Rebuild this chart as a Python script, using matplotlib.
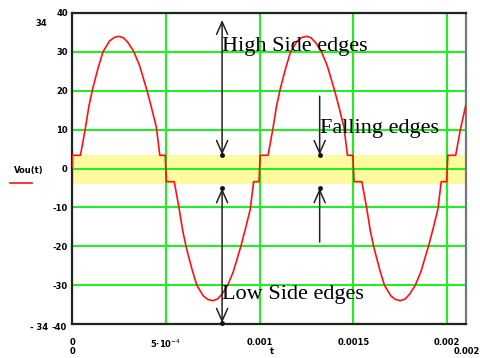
import matplotlib
matplotlib.use("Agg")
import matplotlib.pyplot as plt

# ---- data (time in microseconds, voltage) ----
t_us = [0, 2, 45, 70, 90, 110, 140, 165, 200, 225, 250, 275, 300, 330, 360, 400, 425, 450,
        468, 497, 503, 545, 570, 590, 610, 640, 665, 700, 725, 750, 775, 800, 830, 860, 900, 925, 950,
        968, 997, 1003, 1045, 1070, 1090, 1110, 1140, 1165, 1200, 1225, 1250, 1275, 1300, 1330, 1360,
        1400, 1425, 1450, 1468, 1497, 1503, 1545, 1570, 1590, 1610, 1640, 1665, 1700, 1725, 1750, 1775,
        1800, 1830, 1860, 1900, 1925, 1950, 1968, 1997, 2003, 2045, 2070, 2100]
vout = [0, 3.4, 3.4, 10.0, 16.0, 20.5, 26.0, 30.0, 32.8, 33.7, 34.0, 33.6, 32.3, 30.0, 26.5, 20.0, 15.4, 10.5,
        3.4, 3.4, -3.4, -3.4, -10.0, -16.0, -20.5, -26.0, -30.0, -32.8, -33.7, -34.0, -33.6, -32.3, -30.0, -26.5, -20.0, -15.4, -10.5,
        -3.4, -3.4, 3.4, 3.4, 10.0, 16.0, 20.5, 26.0, 30.0, 32.8, 33.7, 34.0, 33.6, 32.3, 30.0, 26.5,
        20.0, 15.4, 10.5, 3.4, 3.4, -3.4, -3.4, -10.0, -16.0, -20.5, -26.0, -30.0, -32.8, -33.7, -34.0, -33.6,
        -32.3, -30.0, -26.5, -20.0, -15.4, -10.5, -3.4, -3.4, 3.4, 3.4, 10.0, 16.5]

band_low, band_high = -4.0, 3.4
x_ticks = [0, 0.0005, 0.001, 0.0015, 0.002]
x_tick_labels = ["0", "5·10$^{-4}$", "0.001", "0.0015", "0.002"]
y_ticks = [-40, -30, -20, -10, 0, 10, 20, 30, 40]
y_tick_labels = ["", "-30", "-20", "-10", "0", "10", "20", "30", "40"]

t = [v * 1e-6 for v in t_us]

W, H = 481, 358
fig = plt.figure(figsize=(W / 100, H / 100), dpi=100)
ax = fig.add_axes([72 / W, 1 - 324 / H, (466 - 72) / W, (324 - 13) / H])
ax.set_xlim(0, 0.0021)
ax.set_ylim(-40, 40)

ax.axhspan(band_low, band_high, color="#fffaa0", zorder=0.2, lw=0)
ax.set_axisbelow(True)
ax.set_xticks(x_ticks)
ax.set_xticklabels(x_tick_labels)
ax.set_yticks(y_ticks)
ax.set_yticklabels(y_tick_labels)
ax.grid(True, color="#22ee22", lw=1.5)
ax.tick_params(length=0, labelsize=6)
ax.tick_params(axis="x", pad=10)
ax.tick_params(axis="y", pad=3)
for lab in ax.get_xticklabels() + ax.get_yticklabels():
    lab.set_fontweight("bold")
for s in ax.spines.values():
    s.set_linewidth(1.6)
    s.set_color("#222222")
ax.spines["right"].set_color("#777777")

ax.plot(t, vout, color="#ff1111", lw=1.2, zorder=3)

serif = ["Liberation Serif", "DejaVu Serif"]
fs = 16
ax_arrow = dict(color="#222222", lw=1.1, shrinkA=0, shrinkB=0, mutation_scale=20)

# High side edges
xa = 0.0008
ax.annotate("", xy=(xa, 38.2), xytext=(xa, 3.5),
            arrowprops=dict(arrowstyle="<->,head_length=0.45,head_width=0.2", **ax_arrow), zorder=4)
ax.plot([xa], [3.5], "o", color="#111111", ms=2.5, zorder=5)
ax.text(xa, 31.3, "High Side edges", family=serif, fontsize=fs, va="center", ha="left", zorder=6)

# Low side edges
ax.annotate("", xy=(xa, -5.1), xytext=(xa, -39.7),
            arrowprops=dict(arrowstyle="<->,head_length=0.45,head_width=0.2", **ax_arrow), zorder=4)
ax.plot([xa], [-5.1], "o", color="#111111", ms=2.5, zorder=5)
ax.plot([xa], [-39.7], "o", color="#111111", ms=2.5, zorder=5, clip_on=False)
ax.text(xa, -32.5, "Low Side edges", family=serif, fontsize=fs, va="center", ha="left", zorder=6)

# Falling edges
xf = 0.00132
ax.annotate("", xy=(xf, 3.5), xytext=(xf, 18.6),
            arrowprops=dict(arrowstyle="->,head_length=0.45,head_width=0.2", **ax_arrow), zorder=4)
ax.annotate("", xy=(xf, -5.1), xytext=(xf, -18.9),
            arrowprops=dict(arrowstyle="->,head_length=0.45,head_width=0.2", **ax_arrow), zorder=4)
ax.plot([xf, xf], [3.5, -5.1], "o", color="#111111", ms=2.5, zorder=5)
ax.text(xf, 10.4, "Falling edges", family=serif, fontsize=fs, va="center", ha="left", zorder=6)

# Mathcad-style range markers and labels
def ft(x, y, s, **kw):
    fig.text(x / W, 1 - y / H, s, fontsize=6, fontweight="bold", **kw)

ft(41, 23, "34", ha="center", va="center")
ft(48, 327, "- 34", ha="right", va="center")
ft(67, 327, "-40", ha="right", va="center")
ft(72, 352, "0", ha="center", va="center")
ft(480, 351, "0.002", ha="right", va="center")
ft(272, 352, "t", ha="center", va="center")
ft(29, 171, "Vou(t)", ha="center", va="center")
fig.add_artist(plt.Line2D([10 / W, 32 / W], [1 - 183 / H, 1 - 183 / H], color="#ff1111", lw=1.2))

fig.savefig("out.png", dpi=100)
